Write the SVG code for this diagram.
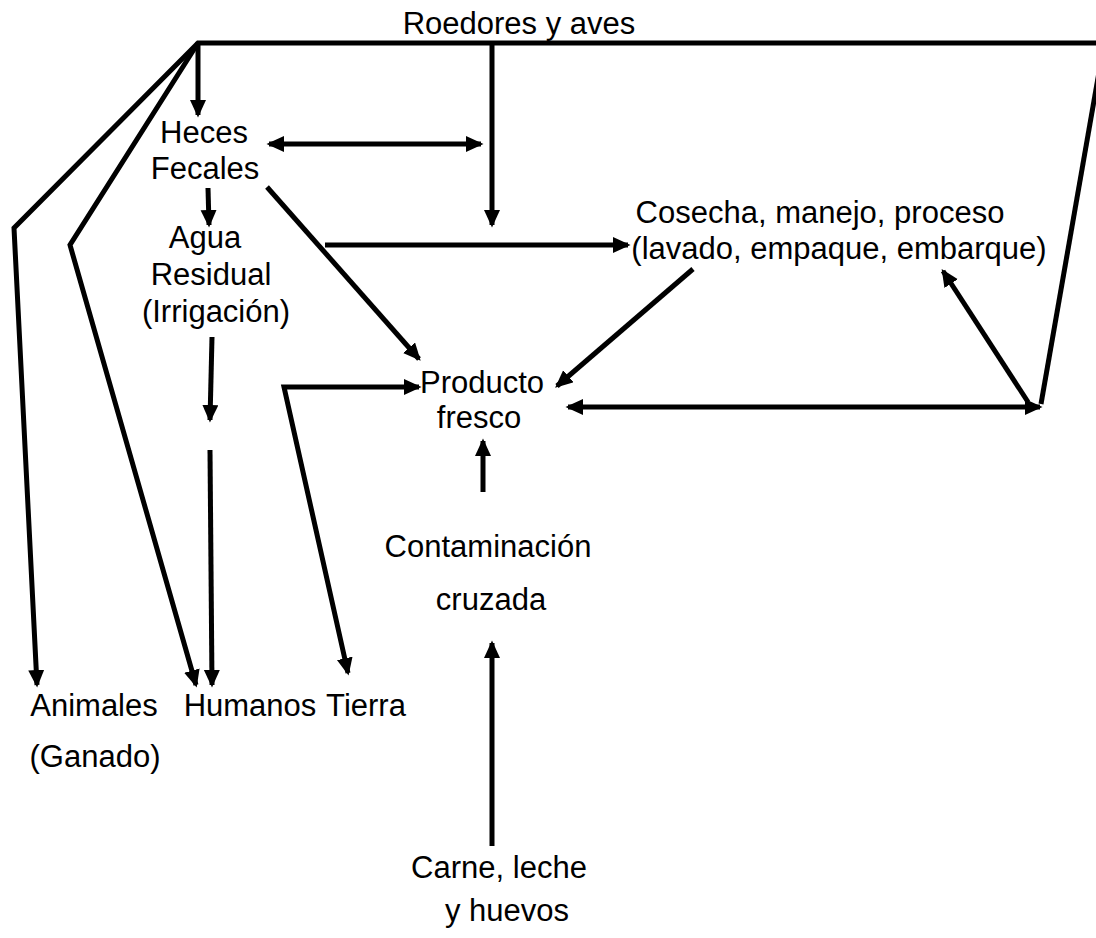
<svg xmlns="http://www.w3.org/2000/svg" width="1096" height="938" viewBox="0 0 1096 938">
<style>
text{font-family:"Liberation Sans",Arial,sans-serif;font-size:31px;fill:#000;text-anchor:middle}
.c{fill:none;stroke:#000;stroke-width:5;stroke-linejoin:miter}
.a{marker-end:url(#ah)}
.b{marker-start:url(#ah);marker-end:url(#ah)}
</style>
<defs>
<marker id="ah" markerUnits="userSpaceOnUse" markerWidth="20" markerHeight="18" refX="15" refY="8" orient="auto-start-reverse">
<path d="M0,0 L17.5,8 L0,16 Z" fill="#000"/>
</marker>
</defs>
<rect width="1096" height="938" fill="#fff"/>
<g id="connectors">
<polyline class="c" points="1100,43 198,43 14,228 37,685" marker-end="url(#ah)"/>
<polyline class="c a" points="198,43 70,245 196,685"/>
<line class="c a" x1="198" y1="43" x2="198" y2="115"/>
<line class="c b" x1="269" y1="144" x2="481" y2="144"/>
<line class="c a" x1="492" y1="45" x2="492" y2="225"/>
<line class="c a" x1="325" y1="245" x2="628" y2="245"/>
<line class="c a" x1="267" y1="187" x2="419" y2="359"/>
<line class="c a" x1="208" y1="188" x2="209" y2="225"/>
<line class="c a" x1="212" y1="337" x2="210" y2="420"/>
<line class="c a" x1="210" y1="450" x2="212" y2="685"/>
<polyline class="c b" points="419,387 284,387 348,673"/>
<line class="c a" x1="483" y1="492" x2="483" y2="441"/>
<line class="c a" x1="492" y1="846" x2="492" y2="643"/>
<line class="c a" x1="693" y1="269" x2="557" y2="386"/>
<line class="c b" x1="568" y1="407" x2="1040" y2="407"/>
<line class="c a" x1="1028" y1="402" x2="943" y2="271"/>
<line class="c" x1="1041" y1="404" x2="1102" y2="55"/>
</g>
<g id="roedores"><text x="519" y="34">Roedores y aves</text></g>
<g id="heces"><text x="204" y="143">Heces</text><text x="205" y="179">Fecales</text></g>
<g id="agua"><text x="205" y="248">Agua</text><text x="211" y="285">Residual</text><text x="216" y="322">(Irrigación)</text></g>
<g id="cosecha"><text x="820" y="223">Cosecha, manejo, proceso</text><text x="839" y="259">(lavado, empaque, embarque)</text></g>
<g id="producto"><text x="482" y="393">Producto</text><text x="479" y="428">fresco</text></g>
<g id="contaminacion"><text x="488" y="557">Contaminación</text><text x="491" y="610">cruzada</text></g>
<g id="carne"><text x="499" y="878">Carne, leche</text><text x="507" y="921">y huevos</text></g>
<g id="animales"><text x="94" y="716">Animales</text><text x="95" y="767">(Ganado)</text></g>
<g id="humanos"><text x="250" y="716">Humanos</text></g>
<g id="tierra"><text x="366" y="716">Tierra</text></g>
</svg>
